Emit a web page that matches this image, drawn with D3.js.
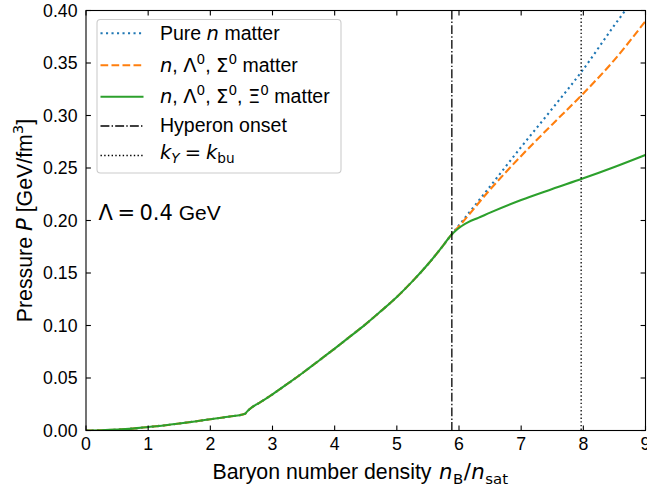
<!DOCTYPE html>
<html>
<head>
<meta charset="utf-8">
<script src="https://cdn.jsdelivr.net/npm/d3@7"></script>
<style>
  html, body { margin: 0; padding: 0; background: #fff; }
  svg { display: block; font-family: "Liberation Sans", Arial, sans-serif; }
</style>
</head>
<body>
<svg id="chart" width="647" height="489"></svg>
<script>
// Shared branch below the hyperon onset (all three compositions coincide)
const densityLow  = [0, 0.25, 0.5, 0.75, 1.0, 1.25, 1.5, 1.75, 2.0, 2.25, 2.56, 2.59, 2.63, 2.8, 3.0, 3.25, 3.5, 3.75, 4.0, 4.25, 4.5, 4.75, 5.0, 5.25, 5.5, 5.75, 5.885];
const pressureLow = [0, 0.0002, 0.0008, 0.0018, 0.0033, 0.0048, 0.0066, 0.0086, 0.0107, 0.0128, 0.0160, 0.0180, 0.0203, 0.0268, 0.0345, 0.0448, 0.0555, 0.0667, 0.0780, 0.0896, 0.1013, 0.1140, 0.1272, 0.1420, 0.1583, 0.1765, 0.1870];

// Above the onset
const densityPureN   = [5.885, 6.0, 6.5, 7.0, 7.5, 8.0, 8.5, 8.75];
const pressurePureN  = [0.187, 0.1955, 0.2325, 0.2700, 0.3065, 0.3440, 0.3860, 0.4060];
const densityLamSig  = [5.885, 6.0, 6.5, 7.0, 7.5, 8.0, 8.5, 9.0];
const pressureLamSig = [0.187, 0.1945, 0.2295, 0.2615, 0.2915, 0.3210, 0.3530, 0.3900];
const densityAllHyp  = [5.885, 5.95, 6.05, 6.15, 6.31, 6.5, 7.0, 7.5, 8.0, 8.5, 9.0];
const pressureAllHyp = [0.187, 0.1905, 0.1950, 0.1985, 0.2025, 0.2075, 0.2195, 0.2300, 0.2402, 0.2510, 0.2625];

const hyperonOnset = 5.885;
const kBreakup = 7.965;

const xTicks = [0, 1, 2, 3, 4, 5, 6, 7, 8, 9];
const yTicks = [0, 0.05, 0.10, 0.15, 0.20, 0.25, 0.30, 0.35, 0.40];

const C = { blue: "#1f77b4", orange: "#ff7f0e", green: "#2ca02c" };
const MATH_FONT = "'DejaVu Sans', sans-serif";

const svg = d3.select("#chart");
const L = 86, R = 645.5, T = 10.5, B = 430.5;
const x = d3.scaleLinear().domain([0, 9]).range([L, R]);
const y = d3.scaleLinear().domain([0, 0.40]).range([B, T]);

// Render a run of text / math pieces (italic, sub, superscript) into a <text>
function rich(sel, parts, fs) {
  let shift = 0;
  parts.forEach(p => {
    const target = p.sup ? -0.42 * fs : p.sub ? 0.22 * fs : 0;
    const ts = sel.append("tspan").text(p.t)
      .attr("dy", (target - shift).toFixed(2));
    if (p.dx) ts.attr("dx", p.dx);
    shift = target;
    if (p.m) ts.attr("font-family", MATH_FONT);
    if (p.i) ts.attr("font-style", "italic");
    if (p.sup || p.sub) ts.attr("font-size", (fs * 0.7).toFixed(2));
  });
  return sel;
}

svg.append("defs").append("clipPath").attr("id", "plotclip")
  .append("rect").attr("x", L).attr("y", T).attr("width", R - L).attr("height", B - T);

const plot = svg.append("g").attr("clip-path", "url(#plotclip)");

const line = d3.line().curve(d3.curveMonotoneX).x(d => x(d[0])).y(d => y(d[1]));
const zip = (xs, ys) => xs.map((d, i) => [d, ys[i]]);
const low = zip(densityLow, pressureLow);

const series = [
  { pts: low.concat(zip(densityPureN, pressurePureN).slice(1)),   color: C.blue,   dash: "2.1,3.4" },
  { pts: low.concat(zip(densityLamSig, pressureLamSig).slice(1)), color: C.orange, dash: "7.7,3.3" },
  { pts: low.concat(zip(densityAllHyp, pressureAllHyp).slice(1)), color: C.green,  dash: null }
];

series.forEach(s => {
  plot.append("path").datum(s.pts)
    .attr("d", line)
    .attr("fill", "none")
    .attr("stroke", s.color)
    .attr("stroke-width", 2.1)
    .attr("stroke-dasharray", s.dash);
});

// Vertical reference lines
plot.append("line")
  .attr("x1", x(hyperonOnset)).attr("x2", x(hyperonOnset))
  .attr("y1", T).attr("y2", B)
  .attr("stroke", "#000").attr("stroke-width", 1.3)
  .attr("stroke-dasharray", "8.9,2.2,1.4,2.2");
plot.append("line")
  .attr("x1", x(kBreakup)).attr("x2", x(kBreakup))
  .attr("y1", T).attr("y2", B)
  .attr("stroke", "#000").attr("stroke-width", 1.3)
  .attr("stroke-dasharray", "1.4,2.3");

// Axes: ticks pointing inward on all four sides
const tickLen = 4.9;
const axes = svg.append("g").attr("stroke", "#000").attr("stroke-width", 1.1);
xTicks.forEach(t => {
  axes.append("line").attr("x1", x(t)).attr("x2", x(t)).attr("y1", B).attr("y2", B - tickLen);
  axes.append("line").attr("x1", x(t)).attr("x2", x(t)).attr("y1", T).attr("y2", T + tickLen);
});
yTicks.forEach(t => {
  axes.append("line").attr("x1", L).attr("x2", L + tickLen).attr("y1", y(t)).attr("y2", y(t));
  axes.append("line").attr("x1", R).attr("x2", R - tickLen).attr("y1", y(t)).attr("y2", y(t));
});
axes.append("rect").attr("x", L).attr("y", T).attr("width", R - L).attr("height", B - T)
  .attr("fill", "none");

const tickFs = 17.7;
svg.append("g").selectAll("text").data(xTicks).join("text")
  .attr("x", d => x(d)).attr("y", 450)
  .attr("text-anchor", "middle").attr("font-size", tickFs)
  .text(d => d3.format("d")(d));
svg.append("g").selectAll("text").data(yTicks).join("text")
  .attr("x", 77.5).attr("y", d => y(d)).attr("dy", "0.36em")
  .attr("text-anchor", "end").attr("font-size", tickFs)
  .text(d => d3.format(".2f")(d));

// Axis titles
const labFs = 21.3;
rich(svg.append("text").attr("x", 212.5).attr("y", 479).attr("font-size", labFs),
  [{ t: "Baryon number density " },
   { t: "n", i: true, m: true, dx: 1.5 }, { t: "B", sub: true, m: true, dx: 0.5 },
   { t: "/", m: true, dx: 0.5 }, { t: "n", i: true, m: true, dx: 0.5 },
   { t: "sat", sub: true, m: true, dx: 0.5 }], labFs);

rich(svg.append("text")
  .attr("transform", `translate(32,${(T + B) / 2}) rotate(-90)`)
  .attr("text-anchor", "middle").attr("font-size", labFs),
  [{ t: "Pressure " }, { t: "P", i: true, m: true }, { t: " [GeV/fm" }, { t: "3", sup: true, m: true }, { t: "]" }], labFs);

// Cutoff annotation
rich(svg.append("text").attr("x", 98.5).attr("y", 220).attr("font-size", 21),
  [{ t: "Λ", m: true }, { t: "=", m: true, dx: 4.5 }, { t: "0.4", m: true, dx: 4.5 }, { t: " GeV" }], 21);

// Legend
const legFs = 19.5;
const legend = svg.append("g");
legend.append("rect")
  .attr("x", 97).attr("y", 19.5).attr("width", 244).attr("height", 153.5)
  .attr("rx", 3.5).attr("ry", 3.5)
  .attr("fill", "rgba(255,255,255,0.8)").attr("stroke", "#cccccc").attr("stroke-width", 1.1);

const legendItems = [
  { color: C.blue,   w: 2.1, dash: "2.1,3.4",
    parts: [{ t: "Pure " }, { t: "n", i: true, m: true }, { t: " matter" }], cy: 33.3, base: 40 },
  { color: C.orange, w: 2.1, dash: "7.7,3.3",
    parts: [{ t: "n", i: true, m: true }, { t: ", " }, { t: "Λ", m: true }, { t: "0", sup: true, m: true },
            { t: ", " }, { t: "Σ", m: true }, { t: "0", sup: true, m: true }, { t: " matter" }], cy: 65.3, base: 72.3 },
  { color: C.green,  w: 2.1, dash: null,
    parts: [{ t: "n", i: true, m: true }, { t: ", " }, { t: "Λ", m: true }, { t: "0", sup: true, m: true },
            { t: ", " }, { t: "Σ", m: true }, { t: "0", sup: true, m: true },
            { t: ", " }, { t: "Ξ", m: true }, { t: "0", sup: true, m: true }, { t: " matter" }], cy: 96.7, base: 103.3 },
  { color: "#000",   w: 1.3, dash: "8.9,2.2,1.4,2.2",
    parts: [{ t: "Hyperon onset" }], cy: 126, base: 131.7 },
  { color: "#000",   w: 1.3, dash: "1.4,2.3",
    parts: [{ t: "k", i: true, m: true }, { t: "Y", i: true, sub: true, m: true },
            { t: "=", m: true, dx: 5 }, { t: "k", i: true, m: true, dx: 5 }, { t: "bu", sub: true, m: true }], cy: 155.5, base: 158.5 }
];

legendItems.forEach(it => {
  legend.append("line")
    .attr("x1", 100.5).attr("x2", 143.5).attr("y1", it.cy).attr("y2", it.cy)
    .attr("stroke", it.color).attr("stroke-width", it.w)
    .attr("stroke-dasharray", it.dash);
  rich(legend.append("text").attr("x", 160).attr("y", it.base).attr("font-size", legFs),
    it.parts, legFs);
});
</script>
</body>
</html>
